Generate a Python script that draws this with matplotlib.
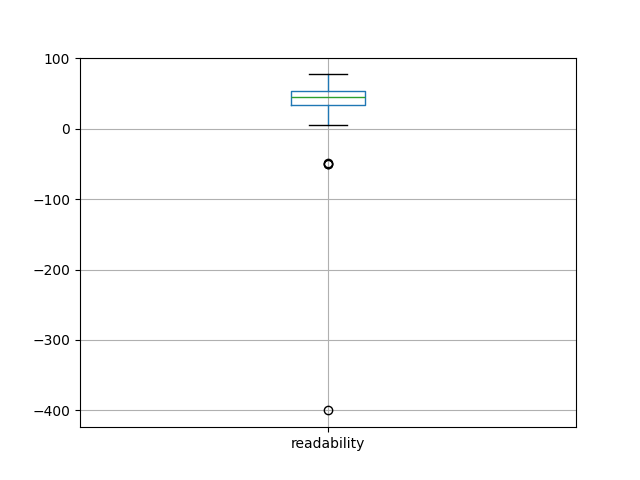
import matplotlib
matplotlib.use("Agg")
import matplotlib.pyplot as plt

# box statistics
label = "readability"
q1, median, q3 = 33, 45, 53.5
whisker_low, whisker_high = 5.5, 77
outliers = [-50, -49.5, -49, -400]

stats = [{
    "label": label,
    "q1": q1, "med": median, "q3": q3,
    "whislo": whisker_low, "whishi": whisker_high,
    "fliers": outliers,
}]

fig, ax = plt.subplots(figsize=(6.4, 4.8), dpi=100)
ax.bxp(
    stats,
    boxprops=dict(color="#1f77b4"),
    whiskerprops=dict(color="#1f77b4"),
    medianprops=dict(color="#2ca02c"),
    capprops=dict(color="black"),
    flierprops=dict(marker="o", markerfacecolor="none", markeredgecolor="black"),
)
ax.grid(True)
ax.set_axisbelow(True)
fig.savefig("out.png")
